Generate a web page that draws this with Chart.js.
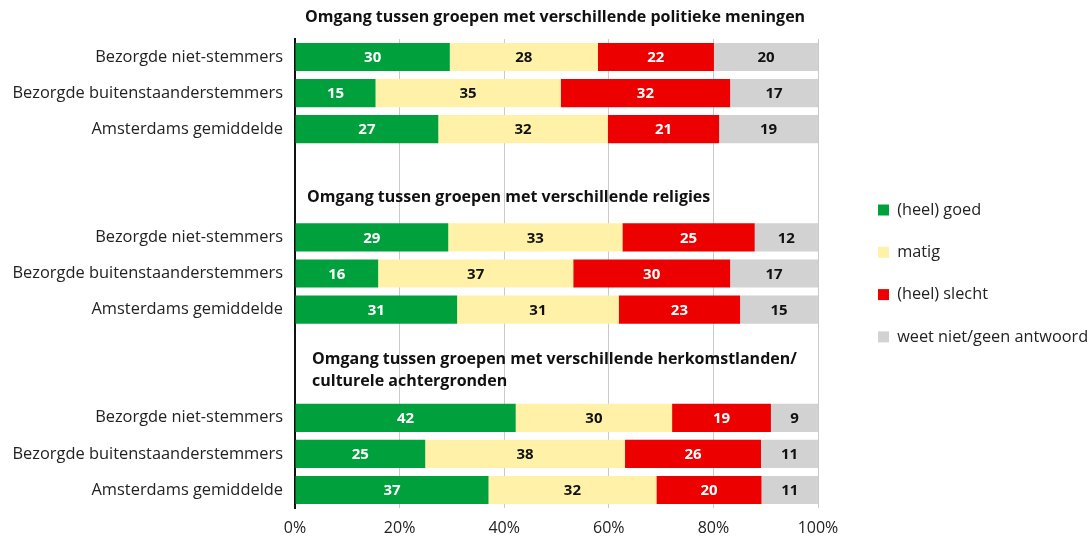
<!DOCTYPE html>
<html>
<head>
<meta charset="utf-8">
<script src="https://cdn.jsdelivr.net/npm/chart.js@4"></script>
<style>
html,body{margin:0;padding:0;background:#fff;}
#wrap{width:1091px;height:542px;}
</style>
</head>
<body>
<div id="wrap"><canvas id="c" width="1091" height="542"></canvas></div>
<script>
const categories = [
  "Bezorgde niet-stemmers","Bezorgde buitenstaanderstemmers","Amsterdams gemiddelde","","",
  "Bezorgde niet-stemmers","Bezorgde buitenstaanderstemmers","Amsterdams gemiddelde","","",
  "Bezorgde niet-stemmers","Bezorgde buitenstaanderstemmers","Amsterdams gemiddelde"
];
const seriesNames = ["(heel) goed","matig","(heel) slecht","weet niet/geen antwoord"];
const goed   = [29.6,15.4,27.4,null,null,29.3,15.9,31.0,null,null,42.2,24.9,37.0];
const matig  = [28.3,35.4,32.4,null,null,33.3,37.3,30.9,null,null,29.9,38.2,32.1];
const slecht = [22.2,32.4,21.3,null,null,25.3,30.0,23.2,null,null,18.9,26.0,20.1];
const weet   = [19.9,16.8,18.9,null,null,12.1,16.8,14.9,null,null,9.0,10.9,10.8];
const tickLabels = ["0%","20%","40%","60%","80%","100%"];
const headers = [
  {index:-1, lines:["Omgang tussen groepen met verschillende politieke meningen"]},
  {index:4,  lines:["Omgang tussen groepen met verschillende religies"]},
  {index:9,  lines:["Omgang tussen groepen met verschillende herkomstlanden/","culturele achtergronden"]}
];

const FONT = "'Open Sans'";
const colors = ["#00A03C","#FFF2A8","#EC0000","#D2D2D2"];
const labelColors = ["#ffffff","#111111","#ffffff","#111111"];

// Legend placement: fixed width box, items shifted to the reference position
const LEGEND_WIDTH = 273;
const LEGEND_BOX_X = 878;
const LEGEND_FIRST_Y = 210;
const LEGEND_PAD = 26;

const legendPlacement = {
  id:'legendPlacement',
  beforeLayout(chart){
    const lg = chart.legend;
    if (!lg || lg._patched) return;
    lg._patched = true;
    const origFit = lg.fit;
    lg.fit = function(){ origFit.call(this); this.width = LEGEND_WIDTH; };
    const origDraw = lg.draw;
    lg.draw = function(){
      const ctx = this.ctx;
      ctx.save();
      const hb = this.legendHitBoxes && this.legendHitBoxes[0];
      const dx = LEGEND_BOX_X - (this.left + LEGEND_PAD);
      const dy = hb ? (LEGEND_FIRST_Y - (hb.top + hb.height/2)) : 0;
      ctx.translate(dx, dy);
      origDraw.call(this);
      ctx.restore();
    };
  }
};

const valueLabels = {
  id:'valueLabels',
  afterDatasetsDraw(chart){
    const ctx = chart.ctx;
    ctx.save();
    ctx.font = "bold 15px " + FONT;
    ctx.textAlign = 'center';
    ctx.textBaseline = 'middle';
    chart.data.datasets.forEach((ds, di)=>{
      const meta = chart.getDatasetMeta(di);
      meta.data.forEach((el, i)=>{
        const v = ds.data[i];
        if (v === null || v === undefined) return;
        const cx = (el.x + el.base)/2;
        ctx.fillStyle = labelColors[di];
        ctx.fillText(String(Math.round(v)), cx, el.y + 1);
      });
    });
    ctx.restore();
  }
};

const headerPlugin = {
  id:'headers',
  afterDraw(chart){
    const ctx = chart.ctx;
    const y = chart.scales.y;
    const offs = [[10,-4],[12,-4],[17,-22]];
    ctx.save();
    ctx.font = "bold 16px " + FONT;
    ctx.fillStyle = "#111";
    ctx.textAlign = 'left';
    ctx.textBaseline = 'middle';
    headers.forEach((h, hi)=>{
      const py = y.getPixelForValue(h.index);
      h.lines.forEach((line, li)=>{
        ctx.fillText(line, chart.chartArea.left + offs[hi][0], py + offs[hi][1] + li*22);
      });
    });
    ctx.restore();
  }
};

const datasets = [goed, matig, slecht, weet].map((d, i)=>({
  label: seriesNames[i],
  data: d,
  backgroundColor: colors[i],
  borderWidth: 0,
  categoryPercentage: 1,
  barPercentage: 0.78
}));

new Chart(document.getElementById('c'), {
  type:'bar',
  data:{ labels: categories, datasets },
  options:{
    indexAxis:'y',
    responsive:false,
    animation:false,
    layout:{ padding:{ top:39, bottom:0, left:0, right:0 } },
    scales:{
      x:{
        stacked:true, min:0, max:100,
        ticks:{ stepSize:20, callback:(v,i)=>tickLabels[i], color:"#222", font:{family:FONT, size:16}, padding:11 },
        grid:{ color:"#CACACA", lineWidth:1, drawTicks:false },
        border:{ display:false },
        afterFit(s){ s.height = 34; }
      },
      y:{
        stacked:true,
        ticks:{ color:"#222", font:{family:FONT, size:16.4}, padding:12 },
        grid:{ display:false, drawTicks:false },
        border:{ display:true, color:"#111", width:2 },
        afterFit(s){ s.width = 295; }
      }
    },
    plugins:{
      legend:{
        position:'right',
        labels:{ boxWidth:11, boxHeight:11, padding:LEGEND_PAD, color:"#222", font:{family:FONT, size:16.3} }
      },
      tooltip:{ enabled:false }
    }
  },
  plugins:[legendPlacement, valueLabels, headerPlugin]
});
</script>
</body>
</html>
